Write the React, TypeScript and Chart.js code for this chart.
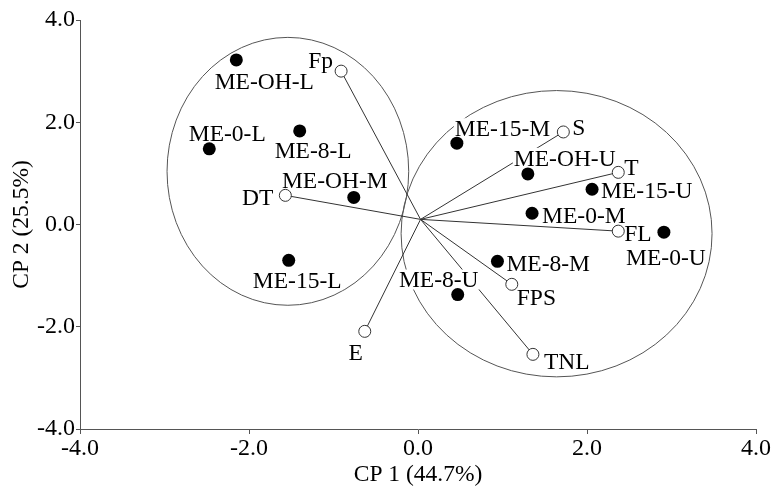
import React, { useEffect, useRef } from "react";
import { Chart, registerables } from "chart.js";

Chart.register(...registerables);

// Sample scores (filled points)
const sampleNames = ["ME-OH-L", "ME-0-L", "ME-8-L", "ME-OH-M", "ME-15-L", "ME-15-M", "ME-OH-U", "ME-15-U", "ME-0-M", "ME-0-U", "ME-8-M", "ME-8-U"];
const sampleCP1 = [-2.15, -2.47, -1.40, -0.76, -1.53, 0.46, 1.30, 2.06, 1.35, 2.91, 0.94, 0.47];
const sampleCP2 = [3.22, 1.48, 1.83, 0.53, -0.70, 1.59, 0.99, 0.69, 0.22, -0.15, -0.72, -1.37];

// Variable loadings (open points, vectors)
const variableNames = ["Fp", "DT", "E", "S", "T", "FL", "FPS", "TNL"];
const variableCP1 = [-0.91, -1.57, -0.63, 1.72, 2.37, 2.37, 1.11, 1.36];
const variableCP2 = [3.00, 0.57, -2.09, 1.81, 1.02, -0.13, -1.17, -2.54];
const vectorOrigin = [0.03, 0.10];

// Group ellipses
const groupCenterX = [-1.54, 1.64];
const groupCenterY = [1.04, -0.18];
const groupRadiusX = [1.43, 1.84];
const groupRadiusY = [2.62, 2.80];

// Axes
const tickValues = [-4, -2, 0, 2, 4];
const axisTitleX = "CP 1 (44.7%)";
const axisTitleY = "CP 2 (25.5%)";

// Label placement (style only): [dx px, dy px, align]
const labelPlacement: Record<string, [number, number, CanvasTextAlign]> = {
  "ME-OH-L": [28, 21, "center"],
  "ME-0-L": [18, -16, "center"],
  "ME-8-L": [13.5, 19, "center"],
  "ME-OH-M": [-19, -17, "center"],
  "ME-15-L": [8.5, 20, "center"],
  "ME-15-M": [-2, -15, "left"],
  "ME-OH-U": [-14, -16, "left"],
  "ME-15-U": [9, 1, "left"],
  "ME-0-M": [10, 2, "left"],
  "ME-0-U": [2, 25, "center"],
  "ME-8-M": [9, 2, "left"],
  "ME-8-U": [-19, -15, "center"],
  Fp: [-8, -11, "right"],
  DT: [-12, 2, "right"],
  E: [-9, 21, "center"],
  S: [9, -5, "left"],
  T: [6, -5, "left"],
  FL: [6, 2, "left"],
  FPS: [5, 13, "left"],
  TNL: [11, 7, "left"],
};

const FONT = "'Liberation Serif', 'Times New Roman', serif";
const LABEL_SIZE = 23.5;
const TICK_SIZE = 24;
const TITLE_SIZE = 23.5;

const biplotPlugin = {
  id: "biplot",
  beforeDatasetsDraw(chart: any) {
    const { ctx, scales } = chart;
    const xs = scales.x;
    const ys = scales.y;
    ctx.save();
    // ellipses
    ctx.strokeStyle = "#555";
    ctx.lineWidth = 1;
    for (let i = 0; i < groupCenterX.length; i++) {
      const cx = xs.getPixelForValue(groupCenterX[i]);
      const cy = ys.getPixelForValue(groupCenterY[i]);
      const rx = Math.abs(xs.getPixelForValue(groupCenterX[i] + groupRadiusX[i]) - cx);
      const ry = Math.abs(ys.getPixelForValue(groupCenterY[i] + groupRadiusY[i]) - cy);
      ctx.beginPath();
      ctx.ellipse(cx, cy, rx, ry, 0, 0, Math.PI * 2);
      ctx.stroke();
    }
    // vectors
    ctx.strokeStyle = "#333";
    const ox = xs.getPixelForValue(vectorOrigin[0]);
    const oy = ys.getPixelForValue(vectorOrigin[1]);
    for (let i = 0; i < variableNames.length; i++) {
      ctx.beginPath();
      ctx.moveTo(ox, oy);
      ctx.lineTo(xs.getPixelForValue(variableCP1[i]), ys.getPixelForValue(variableCP2[i]));
      ctx.stroke();
    }
    // labels with white background
    ctx.font = `${LABEL_SIZE}px ${FONT}`;
    ctx.textBaseline = "alphabetic";
    const drawLabel = (name: string, vx: number, vy: number) => {
      const p = labelPlacement[name] || [8, 0, "left"];
      const px = xs.getPixelForValue(vx) + p[0];
      const py = ys.getPixelForValue(vy) + p[1];
      const w = ctx.measureText(name).width;
      let left = px;
      if (p[2] === "center") left = px - w / 2;
      else if (p[2] === "right") left = px - w;
      ctx.fillStyle = "#fff";
      ctx.fillRect(left - 1, py - 10, w + 2, 20);
      ctx.fillStyle = "#000";
      ctx.textAlign = "left";
      ctx.fillText(name, left, py + LABEL_SIZE * 0.331);
    };
    sampleNames.forEach((n, i) => drawLabel(n, sampleCP1[i], sampleCP2[i]));
    variableNames.forEach((n, i) => drawLabel(n, variableCP1[i], variableCP2[i]));
    ctx.restore();
  },
};

export default function App() {
  const ref = useRef<HTMLCanvasElement | null>(null);
  useEffect(() => {
    document.body.style.margin = "0";
    if (!ref.current) return;
    const chart = new Chart(ref.current, {
      type: "scatter",
      data: {
        datasets: [
          {
            label: "samples",
            data: sampleCP1.map((v, i) => ({ x: v, y: sampleCP2[i] })),
            backgroundColor: "#000",
            borderColor: "#000",
            pointRadius: 6.5,
            borderWidth: 0,
          },
          {
            label: "variables",
            data: variableCP1.map((v, i) => ({ x: v, y: variableCP2[i] })),
            backgroundColor: "#fff",
            borderColor: "#333",
            pointRadius: 6,
            borderWidth: 1,
          },
        ],
      },
      options: {
        responsive: false,
        animation: false,
        layout: { padding: { top: 20, right: 16, left: 0, bottom: 0 } },
        plugins: { legend: { display: false }, tooltip: { enabled: false } },
        scales: {
          x: {
            type: "linear",
            min: -4,
            max: 4,
            afterBuildTicks: (axis: any) => {
              axis.ticks = tickValues.map((v) => ({ value: v }));
            },
            afterFit: (axis: any) => {
              axis.height = 60;
            },
            ticks: {
              callback: (v: any) => Number(v).toFixed(1),
              color: "#000",
              font: { family: FONT, size: TICK_SIZE },
              padding: 0,
              maxRotation: 0,
            },
            grid: { drawOnChartArea: false, drawTicks: true, tickLength: 5, color: "#555" },
            border: { display: true, color: "#555", width: 1 },
            title: {
              display: true,
              text: axisTitleX,
              color: "#000",
              font: { family: FONT, size: TITLE_SIZE },
              padding: { top: 0, bottom: 0 },
            },
          },
          y: {
            type: "linear",
            min: -4,
            max: 4,
            afterBuildTicks: (axis: any) => {
              axis.ticks = tickValues.map((v) => ({ value: v }));
            },
            afterFit: (axis: any) => {
              axis.width = 80;
            },
            ticks: {
              callback: (v: any) => Number(v).toFixed(1),
              color: "#000",
              font: { family: FONT, size: TICK_SIZE },
              padding: 1,
            },
            grid: { drawOnChartArea: false, drawTicks: true, tickLength: 4, color: "#555" },
            border: { display: true, color: "#555", width: 1 },
            title: {
              display: true,
              text: axisTitleY,
              color: "#000",
              font: { family: FONT, size: TITLE_SIZE },
              padding: { top: 8, bottom: 0 },
            },
          },
        },
      },
      plugins: [biplotPlugin],
    });
    return () => chart.destroy();
  }, []);
  return (
    <div style={{ position: "fixed", left: 0, top: 0, width: 772, height: 489, background: "#fff" }}>
      <canvas ref={ref} width={772} height={489} style={{ width: 772, height: 489, display: "block" }} />
    </div>
  );
}
